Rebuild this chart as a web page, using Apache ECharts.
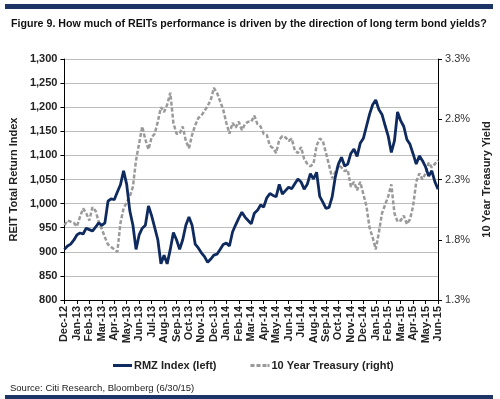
<!DOCTYPE html>
<html>
<head>
<meta charset="utf-8">
<script src="https://cdn.jsdelivr.net/npm/echarts@6/dist/echarts.min.js"></script>
<style>
  html, body { margin: 0; padding: 0; background: #fff; }
  #chart { width: 500px; height: 399px; }
</style>
</head>
<body>
<div id="chart"></div>
<script>
// month tick labels, Dec-12 .. Jun-15
const monthLabels = ['Dec-12','Jan-13','Feb-13','Mar-13','Apr-13','May-13','Jun-13','Jul-13','Aug-13','Sep-13',
  'Oct-13','Nov-13','Dec-13','Jan-14','Feb-14','Mar-14','Apr-14','May-14','Jun-14','Jul-14','Aug-14','Sep-14',
  'Oct-14','Nov-14','Dec-14','Jan-15','Feb-15','Mar-15','Apr-15','May-15','Jun-15'];

// weekly readings (4 per month)
const rmzIndex = [905,912,916,924,935,939,937,949,946,943,951,960,955,960,1005,1010,1008,1024,1039,1068,
  1040,985,955,905,935,949,955,995,975,950,925,875,893,875,905,940,925,905,925,955,
  972,955,916,908,898,890,878,885,893,895,905,915,918,912,941,956,970,982,972,965,
  958,980,986,997,993,1012,1021,1017,1014,1040,1020,1027,1034,1031,1041,1051,1045,1030,1040,1062,
  1051,1065,1015,1003,990,992,1014,1055,1082,1096,1078,1082,1104,1113,1098,1125,1135,1160,1185,1205,
  1215,1195,1185,1162,1140,1106,1130,1190,1172,1160,1133,1123,1103,1082,1099,1089,1076,1057,1068,1045,1030];

const treasuryYield = [1.92,1.96,1.95,1.94,1.91,1.99,2.06,2.02,1.96,2.07,2.04,1.95,1.89,1.82,1.76,1.74,1.72,1.70,1.94,2.06,
  2.11,2.16,2.24,2.46,2.60,2.74,2.63,2.55,2.65,2.68,2.78,2.90,2.86,2.92,3.02,2.77,2.68,2.68,2.74,2.62,
  2.56,2.67,2.75,2.81,2.83,2.87,2.91,2.96,3.06,3.02,2.95,2.88,2.77,2.68,2.77,2.73,2.78,2.71,2.76,2.78,
  2.78,2.83,2.76,2.74,2.68,2.67,2.58,2.56,2.52,2.63,2.66,2.65,2.62,2.64,2.54,2.52,2.57,2.47,2.43,2.41,
  2.43,2.58,2.64,2.62,2.52,2.42,2.31,2.36,2.42,2.40,2.37,2.38,2.24,2.28,2.21,2.28,2.18,2.08,1.90,1.82,
  1.72,1.86,2.02,2.09,2.16,2.26,2.02,1.95,1.96,2.00,1.93,1.97,2.08,2.28,2.35,2.30,2.35,2.44,2.40,2.43,2.46];

const weeks = [];
for (let i = 0; i < rmzIndex.length; i++) {
  weeks.push(i % 4 === 0 ? monthLabels[i / 4] : '');
}
const onMonth = (idx) => idx % 4 === 0;

const font = 'Liberation Sans, Arial, sans-serif';
const chart = echarts.init(document.getElementById('chart'), null, { renderer: 'canvas' });

const option = {
  backgroundColor: '#fff',
  animation: false,
  title: [
    {
      text: 'Figure 9. How much of REITs performance is driven by the direction of long term bond yields?',
      left: 6, top: 14,
      textStyle: { fontFamily: font, fontSize: 10.65, fontWeight: 'bold', color: '#111' }
    },
    {
      text: 'Source: Citi Research, Bloomberg (6/30/15)',
      left: 5, top: 378,
      textStyle: { fontFamily: font, fontSize: 9.5, fontWeight: 'normal', color: '#222' }
    }
  ],
  graphic: [
    { type: 'rect', shape: { x: 5, y: 4, width: 488, height: 5 }, style: { fill: '#1c3466' } },
    { type: 'rect', shape: { x: 5, y: 395, width: 488, height: 4 }, style: { fill: '#1c3466' } }
  ],
  legend: {
    left: 108, top: 355,
    itemWidth: 19, itemHeight: 3, itemGap: 34,
    textStyle: { fontFamily: font, fontSize: 11, fontWeight: 'bold', color: '#222', padding: [0, 0, 0, -3] },
    data: [
      { name: 'RMZ Index (left)', icon: 'path://M0,0h19v3h-19z' },
      { name: '10 Year Treasury (right)', icon: 'path://M0,0h4v3h-4zM6,0h4v3h-4zM12,0h4v3h-4zM17,0h2v3h-2z' }
    ]
  },
  grid: { left: 63, right: 61, top: 59, bottom: 99 },
  xAxis: {
    type: 'category',
    data: weeks,
    boundaryGap: false,
    axisLine: { lineStyle: { color: '#000', width: 1 } },
    axisTick: { interval: onMonth, length: 4, lineStyle: { color: '#000' } },
    axisLabel: {
      interval: onMonth, rotate: 90, margin: 6,
      fontFamily: font, fontSize: 11, fontWeight: 'bold', color: '#222'
    },
    splitLine: { show: false }
  },
  yAxis: [
    {
      type: 'value', min: 800, max: 1300, interval: 50,
      name: 'REIT Total Return Index', nameLocation: 'middle', nameGap: 45,
      nameTextStyle: { fontFamily: font, fontSize: 11, fontWeight: 'bold', color: '#222' },
      axisLine: { show: true, lineStyle: { color: '#000' } },
      axisTick: { show: true, length: 4, lineStyle: { color: '#000' } },
      axisLabel: {
        margin: 7, fontFamily: font, fontSize: 11, fontWeight: 'bold', color: '#222',
        formatter: (v) => v.toLocaleString('en-US')
      },
      splitLine: { lineStyle: { color: '#bdbdbd', width: 1 } }
    },
    {
      type: 'value', min: 1.3, max: 3.3, interval: 0.5,
      name: '10 Year Treasury Yield', nameLocation: 'middle', nameGap: 34, nameRotate: 90,
      nameTextStyle: { fontFamily: font, fontSize: 11, fontWeight: 'bold', color: '#222' },
      axisLine: { show: true, lineStyle: { color: '#000' } },
      axisTick: { show: true, length: 4, lineStyle: { color: '#000' } },
      axisLabel: {
        margin: 7, fontFamily: font, fontSize: 11, color: '#333',
        formatter: (v) => v.toFixed(1) + '%'
      },
      splitLine: { show: false }
    }
  ],
  series: [
    {
      name: '10 Year Treasury (right)',
      type: 'line', yAxisIndex: 1,
      data: treasuryYield,
      symbol: 'none',
      lineStyle: { color: '#9a9a9a', width: 2.5, type: [4, 2] },
      itemStyle: { color: '#9a9a9a' },
      z: 2
    },
    {
      name: 'RMZ Index (left)',
      type: 'line', yAxisIndex: 0,
      data: rmzIndex,
      symbol: 'none',
      lineStyle: { color: '#0f2a5e', width: 2.8 },
      itemStyle: { color: '#0f2a5e' },
      z: 3
    }
  ]
};

chart.setOption(option);
window.addEventListener('resize', chart.resize);
</script>
</body>
</html>
